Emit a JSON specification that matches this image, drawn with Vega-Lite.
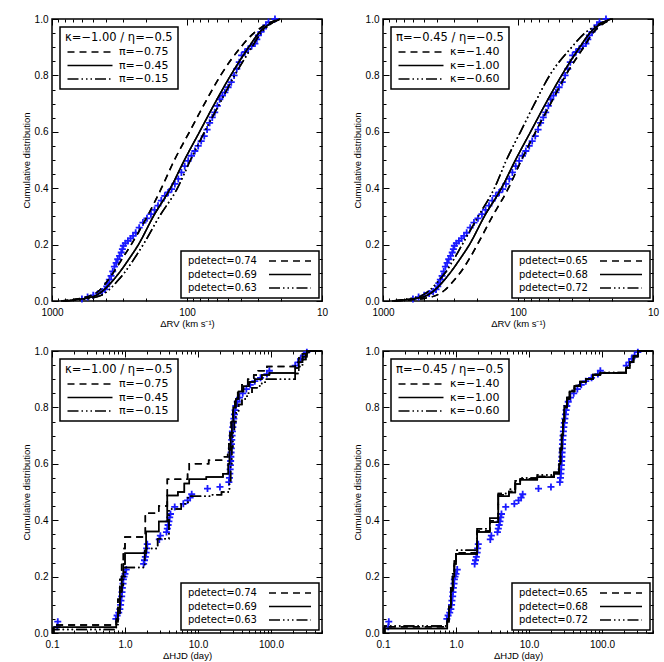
{
  "$schema": "https://vega.github.io/schema/vega-lite/v6.json",
  "padding": {"left": 20, "top": 11, "right": 6, "bottom": 3},
  "config": {
    "view": {"stroke": "black", "strokeWidth": 1.5},
    "axis": {"grid": false, "domain": false, "labelFont": "Liberation Sans", "labelFontSize": 10, "labelColor": "black", "titleFont": "Liberation Sans", "titleFontSize": 9.5, "titleFontWeight": "normal", "titleColor": "black", "tickColor": "black", "tickWidth": 1, "labelFlush": false, "labelOverlap": false, "labelBound": false},
    "legend": {"strokeColor": "black", "strokeWidth": 1.5, "fillColor": "white", "labelFont": "DejaVu Sans", "labelColor": "black", "titleFont": "DejaVu Sans", "titleColor": "black", "titleFontWeight": "normal", "symbolStrokeColor": "black", "symbolStrokeWidth": 1.4, "symbolFillColor": "transparent"},
    "line": {"color": "black", "strokeWidth": 1.5}
  },
  "datasets": {
    "obsRV": [
      {"v":600,"c":0.007},{"v":545,"c":0.014},{"v":495,"c":0.02},{"v":455,"c":0.027},{"v":425,"c":0.034},{"v":405,"c":0.041},{"v":393,"c":0.052},{"v":386,"c":0.063},{"v":376,"c":0.076},{"v":365,"c":0.089},{"v":355,"c":0.105},{"v":345,"c":0.122},{"v":335,"c":0.135},{"v":326,"c":0.148},{"v":316,"c":0.16},{"v":307,"c":0.172},{"v":301,"c":0.184},{"v":296,"c":0.196},{"v":286,"c":0.205},{"v":274,"c":0.213},{"v":262,"c":0.222},{"v":251,"c":0.231},{"v":240,"c":0.242},{"v":226,"c":0.26},{"v":212,"c":0.278},{"v":198,"c":0.293},{"v":185,"c":0.308},{"v":174,"c":0.323},{"v":164,"c":0.338},{"v":155,"c":0.356},{"v":146,"c":0.373},{"v":138,"c":0.385},{"v":130,"c":0.397},{"v":123,"c":0.415},{"v":116,"c":0.433},{"v":110,"c":0.456},{"v":104,"c":0.478},{"v":98,"c":0.497},{"v":92.6,"c":0.515},{"v":87.5,"c":0.532},{"v":82.6,"c":0.55},{"v":78.5,"c":0.567},{"v":74.5,"c":0.585},{"v":71,"c":0.608},{"v":68,"c":0.632},{"v":65,"c":0.651},{"v":62.3,"c":0.669},{"v":59.6,"c":0.692},{"v":57.2,"c":0.715},{"v":54.7,"c":0.728},{"v":52.4,"c":0.74},{"v":49.6,"c":0.758},{"v":47,"c":0.776},{"v":44.8,"c":0.8},{"v":42.8,"c":0.823},{"v":41,"c":0.847},{"v":39.4,"c":0.871},{"v":37.2,"c":0.883},{"v":35.2,"c":0.894},{"v":33.2,"c":0.904},{"v":31.4,"c":0.913},{"v":30.4,"c":0.928},{"v":29.6,"c":0.942},{"v":28.3,"c":0.954},{"v":27.1,"c":0.966},{"v":26,"c":0.978},{"v":24.9,"c":0.989},{"v":22.3,"c":1.0}
    ],
    "obsHJD": [
      {"v":0.118,"c":0.022},{"v":0.12,"c":0.04},
      {"v":0.75,"c":0.05},{"v":0.78,"c":0.062},{"v":0.82,"c":0.072},{"v":0.85,"c":0.085},{"v":0.87,"c":0.1},{"v":0.88,"c":0.115},{"v":0.9,"c":0.13},{"v":0.91,"c":0.145},{"v":0.92,"c":0.16},{"v":0.94,"c":0.175},{"v":0.95,"c":0.19},{"v":0.97,"c":0.2},{"v":1.0,"c":0.21},{"v":1.04,"c":0.225},
      {"v":1.8,"c":0.245},{"v":1.85,"c":0.258},{"v":1.9,"c":0.27},{"v":1.95,"c":0.285},{"v":1.98,"c":0.3},{"v":2.02,"c":0.315},
      {"v":2.95,"c":0.332},{"v":3.05,"c":0.345},
      {"v":3.7,"c":0.358},{"v":3.8,"c":0.37},{"v":3.9,"c":0.383},{"v":4.0,"c":0.396},{"v":4.1,"c":0.41},{"v":4.2,"c":0.422},
      {"v":4.8,"c":0.447},{"v":6.3,"c":0.458},{"v":7.2,"c":0.47},{"v":7.8,"c":0.48},{"v":8.2,"c":0.492},
      {"v":13.5,"c":0.512},{"v":20,"c":0.518},
      {"v":26.5,"c":0.535},{"v":27,"c":0.55},{"v":27.3,"c":0.565},{"v":27.6,"c":0.58},{"v":27.8,"c":0.595},{"v":28,"c":0.61},{"v":28.2,"c":0.625},{"v":28.4,"c":0.64},{"v":28.6,"c":0.655},{"v":28.8,"c":0.67},{"v":29,"c":0.685},{"v":29.3,"c":0.7},{"v":29.6,"c":0.715},{"v":30,"c":0.73},{"v":30.5,"c":0.745},{"v":31,"c":0.76},{"v":31.6,"c":0.775},{"v":32.3,"c":0.79},{"v":33,"c":0.805},{"v":34.5,"c":0.82},{"v":37,"c":0.835},{"v":41,"c":0.85},{"v":46,"c":0.865},{"v":52,"c":0.88},{"v":60,"c":0.893},{"v":72,"c":0.905},{"v":88,"c":0.918},{"v":95,"c":0.93},
      {"v":215,"c":0.948},{"v":235,"c":0.96},{"v":255,"c":0.972},{"v":280,"c":0.984},{"v":310,"c":0.996}
    ],
    "mTL": [
      {"v":857,"c":0,"m":"π=−0.75","p":"pdetect=0.74"},{"v":698,"c":0.005,"m":"π=−0.75","p":"pdetect=0.74"},{"v":609,"c":0.01,"m":"π=−0.75","p":"pdetect=0.74"},{"v":513,"c":0.02,"m":"π=−0.75","p":"pdetect=0.74"},{"v":440,"c":0.04,"m":"π=−0.75","p":"pdetect=0.74"},{"v":390,"c":0.07,"m":"π=−0.75","p":"pdetect=0.74"},{"v":352,"c":0.1,"m":"π=−0.75","p":"pdetect=0.74"},{"v":302,"c":0.15,"m":"π=−0.75","p":"pdetect=0.74"},{"v":259,"c":0.2,"m":"π=−0.75","p":"pdetect=0.74"},{"v":197,"c":0.3,"m":"π=−0.75","p":"pdetect=0.74"},{"v":154.7,"c":0.4,"m":"π=−0.75","p":"pdetect=0.74"},{"v":123.9,"c":0.5,"m":"π=−0.75","p":"pdetect=0.74"},{"v":95.8,"c":0.6,"m":"π=−0.75","p":"pdetect=0.74"},{"v":74.1,"c":0.7,"m":"π=−0.75","p":"pdetect=0.74"},{"v":56.4,"c":0.8,"m":"π=−0.75","p":"pdetect=0.74"},{"v":40,"c":0.9,"m":"π=−0.75","p":"pdetect=0.74"},{"v":32,"c":0.95,"m":"π=−0.75","p":"pdetect=0.74"},{"v":26.1,"c":0.98,"m":"π=−0.75","p":"pdetect=0.74"},{"v":20.9,"c":1,"m":"π=−0.75","p":"pdetect=0.74"},
      {"v":828,"c":0,"m":"π=−0.45","p":"pdetect=0.69"},{"v":663,"c":0.005,"m":"π=−0.45","p":"pdetect=0.69"},{"v":559,"c":0.01,"m":"π=−0.45","p":"pdetect=0.69"},{"v":471,"c":0.02,"m":"π=−0.45","p":"pdetect=0.69"},{"v":411,"c":0.04,"m":"π=−0.45","p":"pdetect=0.69"},{"v":358,"c":0.07,"m":"π=−0.45","p":"pdetect=0.69"},{"v":318,"c":0.1,"m":"π=−0.45","p":"pdetect=0.69"},{"v":268,"c":0.15,"m":"π=−0.45","p":"pdetect=0.69"},{"v":229,"c":0.2,"m":"π=−0.45","p":"pdetect=0.69"},{"v":177.5,"c":0.3,"m":"π=−0.45","p":"pdetect=0.69"},{"v":132.7,"c":0.4,"m":"π=−0.45","p":"pdetect=0.69"},{"v":104.4,"c":0.5,"m":"π=−0.45","p":"pdetect=0.69"},{"v":80.7,"c":0.6,"m":"π=−0.45","p":"pdetect=0.69"},{"v":62.4,"c":0.7,"m":"π=−0.45","p":"pdetect=0.69"},{"v":47.5,"c":0.8,"m":"π=−0.45","p":"pdetect=0.69"},{"v":34.9,"c":0.9,"m":"π=−0.45","p":"pdetect=0.69"},{"v":29.4,"c":0.95,"m":"π=−0.45","p":"pdetect=0.69"},{"v":24.8,"c":0.98,"m":"π=−0.45","p":"pdetect=0.69"},{"v":20.5,"c":1,"m":"π=−0.45","p":"pdetect=0.69"},
      {"v":800,"c":0,"m":"π=−0.15","p":"pdetect=0.63"},{"v":609,"c":0.005,"m":"π=−0.15","p":"pdetect=0.63"},{"v":513,"c":0.01,"m":"π=−0.15","p":"pdetect=0.63"},{"v":432,"c":0.02,"m":"π=−0.15","p":"pdetect=0.63"},{"v":377,"c":0.04,"m":"π=−0.15","p":"pdetect=0.63"},{"v":329,"c":0.07,"m":"π=−0.15","p":"pdetect=0.63"},{"v":291,"c":0.1,"m":"π=−0.15","p":"pdetect=0.63"},{"v":246,"c":0.15,"m":"π=−0.15","p":"pdetect=0.63"},{"v":211,"c":0.2,"m":"π=−0.15","p":"pdetect=0.63"},{"v":160,"c":0.3,"m":"π=−0.15","p":"pdetect=0.63"},{"v":117.7,"c":0.4,"m":"π=−0.15","p":"pdetect=0.63"},{"v":94.2,"c":0.5,"m":"π=−0.15","p":"pdetect=0.63"},{"v":74.1,"c":0.6,"m":"π=−0.15","p":"pdetect=0.63"},{"v":57.3,"c":0.7,"m":"π=−0.15","p":"pdetect=0.63"},{"v":44.4,"c":0.8,"m":"π=−0.15","p":"pdetect=0.63"},{"v":33.1,"c":0.9,"m":"π=−0.15","p":"pdetect=0.63"},{"v":28.4,"c":0.95,"m":"π=−0.15","p":"pdetect=0.63"},{"v":24.4,"c":0.98,"m":"π=−0.15","p":"pdetect=0.63"},{"v":20.2,"c":1,"m":"π=−0.15","p":"pdetect=0.63"}
    ],
    "mTR": [
      {"v":800,"c":0,"m":"κ=−1.40","p":"pdetect=0.65"},{"v":588,"c":0.005,"m":"κ=−1.40","p":"pdetect=0.65"},{"v":487,"c":0.01,"m":"κ=−1.40","p":"pdetect=0.65"},{"v":404,"c":0.02,"m":"κ=−1.40","p":"pdetect=0.65"},{"v":346,"c":0.04,"m":"κ=−1.40","p":"pdetect=0.65"},{"v":302,"c":0.07,"m":"κ=−1.40","p":"pdetect=0.65"},{"v":268,"c":0.1,"m":"κ=−1.40","p":"pdetect=0.65"},{"v":229,"c":0.15,"m":"κ=−1.40","p":"pdetect=0.65"},{"v":200,"c":0.2,"m":"κ=−1.40","p":"pdetect=0.65"},{"v":154.7,"c":0.3,"m":"κ=−1.40","p":"pdetect=0.65"},{"v":117.7,"c":0.4,"m":"κ=−1.40","p":"pdetect=0.65"},{"v":94.2,"c":0.5,"m":"κ=−1.40","p":"pdetect=0.65"},{"v":74.1,"c":0.6,"m":"κ=−1.40","p":"pdetect=0.65"},{"v":57.3,"c":0.7,"m":"κ=−1.40","p":"pdetect=0.65"},{"v":44.4,"c":0.8,"m":"κ=−1.40","p":"pdetect=0.65"},{"v":32.6,"c":0.9,"m":"κ=−1.40","p":"pdetect=0.65"},{"v":27.9,"c":0.95,"m":"κ=−1.40","p":"pdetect=0.65"},{"v":23.9,"c":0.98,"m":"κ=−1.40","p":"pdetect=0.65"},{"v":19.8,"c":1,"m":"κ=−1.40","p":"pdetect=0.65"},
      {"v":828,"c":0,"m":"κ=−1.00","p":"pdetect=0.68"},{"v":663,"c":0.005,"m":"κ=−1.00","p":"pdetect=0.68"},{"v":559,"c":0.01,"m":"κ=−1.00","p":"pdetect=0.68"},{"v":471,"c":0.02,"m":"κ=−1.00","p":"pdetect=0.68"},{"v":411,"c":0.04,"m":"κ=−1.00","p":"pdetect=0.68"},{"v":358,"c":0.07,"m":"κ=−1.00","p":"pdetect=0.68"},{"v":318,"c":0.1,"m":"κ=−1.00","p":"pdetect=0.68"},{"v":268,"c":0.15,"m":"κ=−1.00","p":"pdetect=0.68"},{"v":229,"c":0.2,"m":"κ=−1.00","p":"pdetect=0.68"},{"v":177.5,"c":0.3,"m":"κ=−1.00","p":"pdetect=0.68"},{"v":132.7,"c":0.4,"m":"κ=−1.00","p":"pdetect=0.68"},{"v":104.4,"c":0.5,"m":"κ=−1.00","p":"pdetect=0.68"},{"v":80.7,"c":0.6,"m":"κ=−1.00","p":"pdetect=0.68"},{"v":62.4,"c":0.7,"m":"κ=−1.00","p":"pdetect=0.68"},{"v":47.5,"c":0.8,"m":"κ=−1.00","p":"pdetect=0.68"},{"v":34.9,"c":0.9,"m":"κ=−1.00","p":"pdetect=0.68"},{"v":29.4,"c":0.95,"m":"κ=−1.00","p":"pdetect=0.68"},{"v":24.8,"c":0.98,"m":"κ=−1.00","p":"pdetect=0.68"},{"v":20.5,"c":1,"m":"κ=−1.00","p":"pdetect=0.68"},
      {"v":857,"c":0,"m":"κ=−0.60","p":"pdetect=0.72"},{"v":698,"c":0.005,"m":"κ=−0.60","p":"pdetect=0.72"},{"v":609,"c":0.01,"m":"κ=−0.60","p":"pdetect=0.72"},{"v":513,"c":0.02,"m":"κ=−0.60","p":"pdetect=0.72"},{"v":447,"c":0.04,"m":"κ=−0.60","p":"pdetect=0.72"},{"v":390,"c":0.07,"m":"κ=−0.60","p":"pdetect=0.72"},{"v":346,"c":0.1,"m":"κ=−0.60","p":"pdetect=0.72"},{"v":297,"c":0.15,"m":"κ=−0.60","p":"pdetect=0.72"},{"v":259,"c":0.2,"m":"κ=−0.60","p":"pdetect=0.72"},{"v":197,"c":0.3,"m":"κ=−0.60","p":"pdetect=0.72"},{"v":149.5,"c":0.4,"m":"κ=−0.60","p":"pdetect=0.72"},{"v":121.8,"c":0.5,"m":"κ=−0.60","p":"pdetect=0.72"},{"v":95.8,"c":0.6,"m":"κ=−0.60","p":"pdetect=0.72"},{"v":75.4,"c":0.7,"m":"κ=−0.60","p":"pdetect=0.72"},{"v":58.3,"c":0.8,"m":"κ=−0.60","p":"pdetect=0.72"},{"v":40,"c":0.9,"m":"κ=−0.60","p":"pdetect=0.72"},{"v":32,"c":0.95,"m":"κ=−0.60","p":"pdetect=0.72"},{"v":25.6,"c":0.98,"m":"κ=−0.60","p":"pdetect=0.72"},{"v":20.2,"c":1,"m":"κ=−0.60","p":"pdetect=0.72"}
    ],
    "mBL": [
      {"v":0.1,"c":0,"m":"π=−0.75","p":"pdetect=0.74"},{"v":0.105,"c":0.028,"m":"π=−0.75","p":"pdetect=0.74"},{"v":0.76,"c":0.06,"m":"π=−0.75","p":"pdetect=0.74"},{"v":0.8,"c":0.12,"m":"π=−0.75","p":"pdetect=0.74"},{"v":0.85,"c":0.19,"m":"π=−0.75","p":"pdetect=0.74"},{"v":0.9,"c":0.25,"m":"π=−0.75","p":"pdetect=0.74"},{"v":0.95,"c":0.3,"m":"π=−0.75","p":"pdetect=0.74"},{"v":1.0,"c":0.34,"m":"π=−0.75","p":"pdetect=0.74"},{"v":1.9,"c":0.425,"m":"π=−0.75","p":"pdetect=0.74"},{"v":2.9,"c":0.45,"m":"π=−0.75","p":"pdetect=0.74"},{"v":3.8,"c":0.545,"m":"π=−0.75","p":"pdetect=0.74"},{"v":7.2,"c":0.57,"m":"π=−0.75","p":"pdetect=0.74"},{"v":7.6,"c":0.6,"m":"π=−0.75","p":"pdetect=0.74"},{"v":14,"c":0.613,"m":"π=−0.75","p":"pdetect=0.74"},{"v":21,"c":0.625,"m":"π=−0.75","p":"pdetect=0.74"},{"v":25.5,"c":0.645,"m":"π=−0.75","p":"pdetect=0.74"},{"v":26.5,"c":0.68,"m":"π=−0.75","p":"pdetect=0.74"},{"v":27.5,"c":0.72,"m":"π=−0.75","p":"pdetect=0.74"},{"v":28.5,"c":0.76,"m":"π=−0.75","p":"pdetect=0.74"},{"v":30,"c":0.8,"m":"π=−0.75","p":"pdetect=0.74"},{"v":32,"c":0.83,"m":"π=−0.75","p":"pdetect=0.74"},{"v":35,"c":0.86,"m":"π=−0.75","p":"pdetect=0.74"},{"v":40,"c":0.88,"m":"π=−0.75","p":"pdetect=0.74"},{"v":48,"c":0.9,"m":"π=−0.75","p":"pdetect=0.74"},{"v":58,"c":0.915,"m":"π=−0.75","p":"pdetect=0.74"},{"v":67,"c":0.93,"m":"π=−0.75","p":"pdetect=0.74"},{"v":88,"c":0.945,"m":"π=−0.75","p":"pdetect=0.74"},{"v":215,"c":0.96,"m":"π=−0.75","p":"pdetect=0.74"},{"v":240,"c":0.975,"m":"π=−0.75","p":"pdetect=0.74"},{"v":270,"c":0.99,"m":"π=−0.75","p":"pdetect=0.74"},{"v":310,"c":1.0,"m":"π=−0.75","p":"pdetect=0.74"},{"v":500,"c":1.0,"m":"π=−0.75","p":"pdetect=0.74"},
      {"v":0.1,"c":0,"m":"π=−0.45","p":"pdetect=0.69"},{"v":0.105,"c":0.02,"m":"π=−0.45","p":"pdetect=0.69"},{"v":0.76,"c":0.04,"m":"π=−0.45","p":"pdetect=0.69"},{"v":0.8,"c":0.09,"m":"π=−0.45","p":"pdetect=0.69"},{"v":0.85,"c":0.15,"m":"π=−0.45","p":"pdetect=0.69"},{"v":0.9,"c":0.2,"m":"π=−0.45","p":"pdetect=0.69"},{"v":0.95,"c":0.245,"m":"π=−0.45","p":"pdetect=0.69"},{"v":1.0,"c":0.283,"m":"π=−0.45","p":"pdetect=0.69"},{"v":1.95,"c":0.36,"m":"π=−0.45","p":"pdetect=0.69"},{"v":2.9,"c":0.395,"m":"π=−0.45","p":"pdetect=0.69"},{"v":3.8,"c":0.488,"m":"π=−0.45","p":"pdetect=0.69"},{"v":5.3,"c":0.5,"m":"π=−0.45","p":"pdetect=0.69"},{"v":6.5,"c":0.53,"m":"π=−0.45","p":"pdetect=0.69"},{"v":7.6,"c":0.545,"m":"π=−0.45","p":"pdetect=0.69"},{"v":13,"c":0.553,"m":"π=−0.45","p":"pdetect=0.69"},{"v":22,"c":0.565,"m":"π=−0.45","p":"pdetect=0.69"},{"v":26,"c":0.6,"m":"π=−0.45","p":"pdetect=0.69"},{"v":27,"c":0.65,"m":"π=−0.45","p":"pdetect=0.69"},{"v":28,"c":0.7,"m":"π=−0.45","p":"pdetect=0.69"},{"v":29,"c":0.75,"m":"π=−0.45","p":"pdetect=0.69"},{"v":30.5,"c":0.8,"m":"π=−0.45","p":"pdetect=0.69"},{"v":33,"c":0.83,"m":"π=−0.45","p":"pdetect=0.69"},{"v":36,"c":0.856,"m":"π=−0.45","p":"pdetect=0.69"},{"v":42,"c":0.875,"m":"π=−0.45","p":"pdetect=0.69"},{"v":50,"c":0.89,"m":"π=−0.45","p":"pdetect=0.69"},{"v":60,"c":0.9,"m":"π=−0.45","p":"pdetect=0.69"},{"v":75,"c":0.915,"m":"π=−0.45","p":"pdetect=0.69"},{"v":95,"c":0.922,"m":"π=−0.45","p":"pdetect=0.69"},{"v":215,"c":0.94,"m":"π=−0.45","p":"pdetect=0.69"},{"v":240,"c":0.96,"m":"π=−0.45","p":"pdetect=0.69"},{"v":270,"c":0.98,"m":"π=−0.45","p":"pdetect=0.69"},{"v":310,"c":1.0,"m":"π=−0.45","p":"pdetect=0.69"},{"v":500,"c":1.0,"m":"π=−0.45","p":"pdetect=0.69"},
      {"v":0.1,"c":0,"m":"π=−0.15","p":"pdetect=0.63"},{"v":0.105,"c":0.012,"m":"π=−0.15","p":"pdetect=0.63"},{"v":0.76,"c":0.03,"m":"π=−0.15","p":"pdetect=0.63"},{"v":0.8,"c":0.07,"m":"π=−0.15","p":"pdetect=0.63"},{"v":0.85,"c":0.12,"m":"π=−0.15","p":"pdetect=0.63"},{"v":0.9,"c":0.17,"m":"π=−0.15","p":"pdetect=0.63"},{"v":0.95,"c":0.2,"m":"π=−0.15","p":"pdetect=0.63"},{"v":1.0,"c":0.232,"m":"π=−0.15","p":"pdetect=0.63"},{"v":1.86,"c":0.3,"m":"π=−0.15","p":"pdetect=0.63"},{"v":2.8,"c":0.334,"m":"π=−0.15","p":"pdetect=0.63"},{"v":4.0,"c":0.44,"m":"π=−0.15","p":"pdetect=0.63"},{"v":5.9,"c":0.458,"m":"π=−0.15","p":"pdetect=0.63"},{"v":7.3,"c":0.485,"m":"π=−0.15","p":"pdetect=0.63"},{"v":15,"c":0.49,"m":"π=−0.15","p":"pdetect=0.63"},{"v":21,"c":0.5,"m":"π=−0.15","p":"pdetect=0.63"},{"v":27,"c":0.54,"m":"π=−0.15","p":"pdetect=0.63"},{"v":28,"c":0.6,"m":"π=−0.15","p":"pdetect=0.63"},{"v":29,"c":0.66,"m":"π=−0.15","p":"pdetect=0.63"},{"v":30,"c":0.71,"m":"π=−0.15","p":"pdetect=0.63"},{"v":31.5,"c":0.75,"m":"π=−0.15","p":"pdetect=0.63"},{"v":33,"c":0.78,"m":"π=−0.15","p":"pdetect=0.63"},{"v":36,"c":0.81,"m":"π=−0.15","p":"pdetect=0.63"},{"v":40,"c":0.83,"m":"π=−0.15","p":"pdetect=0.63"},{"v":47,"c":0.85,"m":"π=−0.15","p":"pdetect=0.63"},{"v":55,"c":0.87,"m":"π=−0.15","p":"pdetect=0.63"},{"v":70,"c":0.885,"m":"π=−0.15","p":"pdetect=0.63"},{"v":83,"c":0.9,"m":"π=−0.15","p":"pdetect=0.63"},{"v":215,"c":0.92,"m":"π=−0.15","p":"pdetect=0.63"},{"v":240,"c":0.945,"m":"π=−0.15","p":"pdetect=0.63"},{"v":270,"c":0.97,"m":"π=−0.15","p":"pdetect=0.63"},{"v":300,"c":0.99,"m":"π=−0.15","p":"pdetect=0.63"},{"v":330,"c":1.0,"m":"π=−0.15","p":"pdetect=0.63"},{"v":500,"c":1.0,"m":"π=−0.15","p":"pdetect=0.63"}
    ],
    "mBR": [
      {"v":0.1,"c":0,"m":"κ=−1.40","p":"pdetect=0.65"},{"v":0.105,"c":0.022,"m":"κ=−1.40","p":"pdetect=0.65"},{"v":0.76,"c":0.045,"m":"κ=−1.40","p":"pdetect=0.65"},{"v":0.8,"c":0.095,"m":"κ=−1.40","p":"pdetect=0.65"},{"v":0.85,"c":0.155,"m":"κ=−1.40","p":"pdetect=0.65"},{"v":0.9,"c":0.205,"m":"κ=−1.40","p":"pdetect=0.65"},{"v":0.95,"c":0.25,"m":"κ=−1.40","p":"pdetect=0.65"},{"v":1.0,"c":0.285,"m":"κ=−1.40","p":"pdetect=0.65"},{"v":1.95,"c":0.362,"m":"κ=−1.40","p":"pdetect=0.65"},{"v":2.9,"c":0.398,"m":"κ=−1.40","p":"pdetect=0.65"},{"v":3.8,"c":0.49,"m":"κ=−1.40","p":"pdetect=0.65"},{"v":5.3,"c":0.502,"m":"κ=−1.40","p":"pdetect=0.65"},{"v":6.5,"c":0.532,"m":"κ=−1.40","p":"pdetect=0.65"},{"v":7.6,"c":0.547,"m":"κ=−1.40","p":"pdetect=0.65"},{"v":13,"c":0.555,"m":"κ=−1.40","p":"pdetect=0.65"},{"v":22,"c":0.567,"m":"κ=−1.40","p":"pdetect=0.65"},{"v":26,"c":0.602,"m":"κ=−1.40","p":"pdetect=0.65"},{"v":27,"c":0.652,"m":"κ=−1.40","p":"pdetect=0.65"},{"v":28,"c":0.702,"m":"κ=−1.40","p":"pdetect=0.65"},{"v":29,"c":0.752,"m":"κ=−1.40","p":"pdetect=0.65"},{"v":30.5,"c":0.802,"m":"κ=−1.40","p":"pdetect=0.65"},{"v":33,"c":0.832,"m":"κ=−1.40","p":"pdetect=0.65"},{"v":36,"c":0.857,"m":"κ=−1.40","p":"pdetect=0.65"},{"v":42,"c":0.876,"m":"κ=−1.40","p":"pdetect=0.65"},{"v":50,"c":0.891,"m":"κ=−1.40","p":"pdetect=0.65"},{"v":60,"c":0.901,"m":"κ=−1.40","p":"pdetect=0.65"},{"v":75,"c":0.916,"m":"κ=−1.40","p":"pdetect=0.65"},{"v":95,"c":0.923,"m":"κ=−1.40","p":"pdetect=0.65"},{"v":215,"c":0.941,"m":"κ=−1.40","p":"pdetect=0.65"},{"v":240,"c":0.961,"m":"κ=−1.40","p":"pdetect=0.65"},{"v":270,"c":0.981,"m":"κ=−1.40","p":"pdetect=0.65"},{"v":310,"c":1.0,"m":"κ=−1.40","p":"pdetect=0.65"},{"v":500,"c":1.0,"m":"κ=−1.40","p":"pdetect=0.65"},
      {"v":0.1,"c":0,"m":"κ=−1.00","p":"pdetect=0.68"},{"v":0.105,"c":0.016,"m":"κ=−1.00","p":"pdetect=0.68"},{"v":0.76,"c":0.04,"m":"κ=−1.00","p":"pdetect=0.68"},{"v":0.8,"c":0.09,"m":"κ=−1.00","p":"pdetect=0.68"},{"v":0.85,"c":0.15,"m":"κ=−1.00","p":"pdetect=0.68"},{"v":0.9,"c":0.2,"m":"κ=−1.00","p":"pdetect=0.68"},{"v":0.95,"c":0.245,"m":"κ=−1.00","p":"pdetect=0.68"},{"v":1.0,"c":0.28,"m":"κ=−1.00","p":"pdetect=0.68"},{"v":1.95,"c":0.358,"m":"κ=−1.00","p":"pdetect=0.68"},{"v":2.9,"c":0.393,"m":"κ=−1.00","p":"pdetect=0.68"},{"v":3.8,"c":0.485,"m":"κ=−1.00","p":"pdetect=0.68"},{"v":5.3,"c":0.498,"m":"κ=−1.00","p":"pdetect=0.68"},{"v":6.5,"c":0.528,"m":"κ=−1.00","p":"pdetect=0.68"},{"v":7.6,"c":0.543,"m":"κ=−1.00","p":"pdetect=0.68"},{"v":13,"c":0.552,"m":"κ=−1.00","p":"pdetect=0.68"},{"v":22,"c":0.565,"m":"κ=−1.00","p":"pdetect=0.68"},{"v":26,"c":0.6,"m":"κ=−1.00","p":"pdetect=0.68"},{"v":27,"c":0.65,"m":"κ=−1.00","p":"pdetect=0.68"},{"v":28,"c":0.7,"m":"κ=−1.00","p":"pdetect=0.68"},{"v":29,"c":0.75,"m":"κ=−1.00","p":"pdetect=0.68"},{"v":30.5,"c":0.8,"m":"κ=−1.00","p":"pdetect=0.68"},{"v":33,"c":0.83,"m":"κ=−1.00","p":"pdetect=0.68"},{"v":36,"c":0.856,"m":"κ=−1.00","p":"pdetect=0.68"},{"v":42,"c":0.875,"m":"κ=−1.00","p":"pdetect=0.68"},{"v":50,"c":0.89,"m":"κ=−1.00","p":"pdetect=0.68"},{"v":60,"c":0.9,"m":"κ=−1.00","p":"pdetect=0.68"},{"v":75,"c":0.915,"m":"κ=−1.00","p":"pdetect=0.68"},{"v":95,"c":0.922,"m":"κ=−1.00","p":"pdetect=0.68"},{"v":215,"c":0.94,"m":"κ=−1.00","p":"pdetect=0.68"},{"v":240,"c":0.96,"m":"κ=−1.00","p":"pdetect=0.68"},{"v":270,"c":0.98,"m":"κ=−1.00","p":"pdetect=0.68"},{"v":310,"c":1.0,"m":"κ=−1.00","p":"pdetect=0.68"},{"v":500,"c":1.0,"m":"κ=−1.00","p":"pdetect=0.68"},
      {"v":0.1,"c":0,"m":"κ=−0.60","p":"pdetect=0.72"},{"v":0.105,"c":0.025,"m":"κ=−0.60","p":"pdetect=0.72"},{"v":0.76,"c":0.05,"m":"κ=−0.60","p":"pdetect=0.72"},{"v":0.8,"c":0.1,"m":"κ=−0.60","p":"pdetect=0.72"},{"v":0.85,"c":0.16,"m":"κ=−0.60","p":"pdetect=0.72"},{"v":0.9,"c":0.21,"m":"κ=−0.60","p":"pdetect=0.72"},{"v":0.95,"c":0.255,"m":"κ=−0.60","p":"pdetect=0.72"},{"v":1.0,"c":0.293,"m":"κ=−0.60","p":"pdetect=0.72"},{"v":1.95,"c":0.37,"m":"κ=−0.60","p":"pdetect=0.72"},{"v":2.9,"c":0.407,"m":"κ=−0.60","p":"pdetect=0.72"},{"v":3.8,"c":0.495,"m":"κ=−0.60","p":"pdetect=0.72"},{"v":5.3,"c":0.51,"m":"κ=−0.60","p":"pdetect=0.72"},{"v":6.5,"c":0.54,"m":"κ=−0.60","p":"pdetect=0.72"},{"v":7.6,"c":0.55,"m":"κ=−0.60","p":"pdetect=0.72"},{"v":13,"c":0.56,"m":"κ=−0.60","p":"pdetect=0.72"},{"v":22,"c":0.57,"m":"κ=−0.60","p":"pdetect=0.72"},{"v":26,"c":0.605,"m":"κ=−0.60","p":"pdetect=0.72"},{"v":27,"c":0.655,"m":"κ=−0.60","p":"pdetect=0.72"},{"v":28,"c":0.705,"m":"κ=−0.60","p":"pdetect=0.72"},{"v":29,"c":0.755,"m":"κ=−0.60","p":"pdetect=0.72"},{"v":30.5,"c":0.805,"m":"κ=−0.60","p":"pdetect=0.72"},{"v":33,"c":0.835,"m":"κ=−0.60","p":"pdetect=0.72"},{"v":36,"c":0.86,"m":"κ=−0.60","p":"pdetect=0.72"},{"v":42,"c":0.878,"m":"κ=−0.60","p":"pdetect=0.72"},{"v":50,"c":0.892,"m":"κ=−0.60","p":"pdetect=0.72"},{"v":60,"c":0.902,"m":"κ=−0.60","p":"pdetect=0.72"},{"v":75,"c":0.917,"m":"κ=−0.60","p":"pdetect=0.72"},{"v":95,"c":0.924,"m":"κ=−0.60","p":"pdetect=0.72"},{"v":215,"c":0.942,"m":"κ=−0.60","p":"pdetect=0.72"},{"v":240,"c":0.962,"m":"κ=−0.60","p":"pdetect=0.72"},{"v":270,"c":0.982,"m":"κ=−0.60","p":"pdetect=0.72"},{"v":310,"c":1.0,"m":"κ=−0.60","p":"pdetect=0.72"},{"v":500,"c":1.0,"m":"κ=−0.60","p":"pdetect=0.72"}
    ]
  },
  "columns": 2,
  "spacing": {"row": 50, "column": 61},
  "bounds": "flush",
  "concat": [
    {
      "width": 270, "height": 282,
      "layer": [
        {"data": {"name": "obsRV"},
         "mark": {"type": "point", "shape": "M-1,0L1,0M0,-1L0,1", "filled": false, "size": 49, "strokeWidth": 1.8, "color": "#1a1aff", "opacity": 1},
         "encoding": {
           "x": {"field": "v", "type": "quantitative", "scale": {"type": "log", "domain": [10, 1000], "reverse": true},
                 "axis": {"orient": "bottom", "values": [10,20,30,40,50,60,70,80,90,100,200,300,400,500,600,700,800,900,1000], "labelExpr": "datum.value == 10 || datum.value == 100 || datum.value == 1000 ? format(datum.value, 'd') : ''", "tickSize": {"condition": {"test": "datum.value == 10 || datum.value == 100 || datum.value == 1000", "value": -6}, "value": -3}, "labelPadding": 12, "title": "ΔRV (km s⁻¹)", "titlePadding": -2}},
           "y": {"field": "c", "type": "quantitative", "scale": {"domain": [0, 1]},
                 "axis": {"orient": "left", "values": [0,0.05,0.1,0.15,0.2,0.25,0.3,0.35,0.4,0.45,0.5,0.55,0.6,0.65,0.7,0.75,0.8,0.85,0.9,0.95,1], "format": ".1f", "labelExpr": "indexof([0,0.2,0.4,0.6,0.8,1], datum.value) >= 0 ? datum.label : ''", "tickSize": {"condition": {"test": "indexof([0,0.2,0.4,0.6,0.8,1], datum.value) >= 0", "value": -6}, "value": -3}, "labelPadding": 10, "title": "Cumulative distribution", "titlePadding": 3}}
         }},
        {"data": {"name": "mTL"},
         "mark": {"type": "line", "interpolate": "monotone"},
         "encoding": {
           "x": {"field": "v", "type": "quantitative", "scale": {"type": "log", "domain": [10, 1000], "reverse": true},
                 "axis": {"orient": "top", "values": [10,20,30,40,50,60,70,80,90,100,200,300,400,500,600,700,800,900,1000], "labels": false, "tickSize": {"condition": {"test": "datum.value == 10 || datum.value == 100 || datum.value == 1000", "value": -6}, "value": -3}, "title": null}},
           "y": {"field": "c", "type": "quantitative", "scale": {"domain": [0, 1]},
                 "axis": {"orient": "right", "values": [0,0.05,0.1,0.15,0.2,0.25,0.3,0.35,0.4,0.45,0.5,0.55,0.6,0.65,0.7,0.75,0.8,0.85,0.9,0.95,1], "labels": false, "tickSize": {"condition": {"test": "indexof([0,0.2,0.4,0.6,0.8,1], datum.value) >= 0", "value": -6}, "value": -3}, "title": null}},
           "order": {"field": "v", "sort": "descending"},
           "strokeDash": {"field": "m", "type": "nominal", "scale": {"domain": ["π=−0.75", "π=−0.45", "π=−0.15"], "range": [[7,5],[1,0],[11,3,1.5,3,1.5,3,1.5,3]]},
                          "legend": {"orient": "top-left", "offset": 8, "title": "κ=−1.00 / η=−0.5", "titleFontSize": 11.5, "titlePadding": 3, "labelFontSize": 11, "symbolType": "M-1,0H14", "symbolSize": 36, "labelOffset": 43, "padding": 5, "rowPadding": 1.5}}
         }},
        {"data": {"name": "mTL"},
         "mark": {"type": "line", "interpolate": "monotone"},
         "encoding": {
           "x": {"field": "v", "type": "quantitative", "scale": {"type": "log", "domain": [10, 1000], "reverse": true}, "axis": null},
           "y": {"field": "c", "type": "quantitative", "scale": {"domain": [0, 1]}, "axis": null},
           "order": {"field": "v", "sort": "descending"},
           "strokeDash": {"field": "p", "type": "nominal", "scale": {"domain": ["pdetect=0.74", "pdetect=0.69", "pdetect=0.63"], "range": [[7,5],[1,0],[11,3,1.5,3,1.5,3,1.5,3]]},
                          "legend": {"orient": "bottom-right", "offset": 3, "title": null, "labelFontSize": 10, "symbolType": "M26,0H40", "symbolSize": 36, "labelOffset": -8, "padding": 5, "rowPadding": 3.5}}
         }}
      ],
      "resolve": {"scale": {"strokeDash": "independent"}, "axis": {"x": "independent", "y": "independent"}}
    },
    {
      "width": 270, "height": 282,
      "layer": [
        {"data": {"name": "obsRV"},
         "mark": {"type": "point", "shape": "M-1,0L1,0M0,-1L0,1", "filled": false, "size": 49, "strokeWidth": 1.8, "color": "#1a1aff", "opacity": 1},
         "encoding": {
           "x": {"field": "v", "type": "quantitative", "scale": {"type": "log", "domain": [10, 1000], "reverse": true},
                 "axis": {"orient": "bottom", "values": [10,20,30,40,50,60,70,80,90,100,200,300,400,500,600,700,800,900,1000], "labelExpr": "datum.value == 10 || datum.value == 100 || datum.value == 1000 ? format(datum.value, 'd') : ''", "tickSize": {"condition": {"test": "datum.value == 10 || datum.value == 100 || datum.value == 1000", "value": -6}, "value": -3}, "labelPadding": 12, "title": "ΔRV (km s⁻¹)", "titlePadding": -2}},
           "y": {"field": "c", "type": "quantitative", "scale": {"domain": [0, 1]},
                 "axis": {"orient": "left", "values": [0,0.05,0.1,0.15,0.2,0.25,0.3,0.35,0.4,0.45,0.5,0.55,0.6,0.65,0.7,0.75,0.8,0.85,0.9,0.95,1], "format": ".1f", "labelExpr": "indexof([0,0.2,0.4,0.6,0.8,1], datum.value) >= 0 ? datum.label : ''", "tickSize": {"condition": {"test": "indexof([0,0.2,0.4,0.6,0.8,1], datum.value) >= 0", "value": -6}, "value": -3}, "labelPadding": 10, "title": "Cumulative distribution", "titlePadding": 3}}
         }},
        {"data": {"name": "mTR"},
         "mark": {"type": "line", "interpolate": "monotone"},
         "encoding": {
           "x": {"field": "v", "type": "quantitative", "scale": {"type": "log", "domain": [10, 1000], "reverse": true},
                 "axis": {"orient": "top", "values": [10,20,30,40,50,60,70,80,90,100,200,300,400,500,600,700,800,900,1000], "labels": false, "tickSize": {"condition": {"test": "datum.value == 10 || datum.value == 100 || datum.value == 1000", "value": -6}, "value": -3}, "title": null}},
           "y": {"field": "c", "type": "quantitative", "scale": {"domain": [0, 1]},
                 "axis": {"orient": "right", "values": [0,0.05,0.1,0.15,0.2,0.25,0.3,0.35,0.4,0.45,0.5,0.55,0.6,0.65,0.7,0.75,0.8,0.85,0.9,0.95,1], "labels": false, "tickSize": {"condition": {"test": "indexof([0,0.2,0.4,0.6,0.8,1], datum.value) >= 0", "value": -6}, "value": -3}, "title": null}},
           "order": {"field": "v", "sort": "descending"},
           "strokeDash": {"field": "m", "type": "nominal", "scale": {"domain": ["κ=−1.40", "κ=−1.00", "κ=−0.60"], "range": [[7,5],[1,0],[11,3,1.5,3,1.5,3,1.5,3]]},
                          "legend": {"orient": "top-left", "offset": 8, "title": "π=−0.45 / η=−0.5", "titleFontSize": 11.5, "titlePadding": 3, "labelFontSize": 11, "symbolType": "M-1,0H14", "symbolSize": 36, "labelOffset": 43, "padding": 5, "rowPadding": 1.5}}
         }},
        {"data": {"name": "mTR"},
         "mark": {"type": "line", "interpolate": "monotone"},
         "encoding": {
           "x": {"field": "v", "type": "quantitative", "scale": {"type": "log", "domain": [10, 1000], "reverse": true}, "axis": null},
           "y": {"field": "c", "type": "quantitative", "scale": {"domain": [0, 1]}, "axis": null},
           "order": {"field": "v", "sort": "descending"},
           "strokeDash": {"field": "p", "type": "nominal", "scale": {"domain": ["pdetect=0.65", "pdetect=0.68", "pdetect=0.72"], "range": [[7,5],[1,0],[11,3,1.5,3,1.5,3,1.5,3]]},
                          "legend": {"orient": "bottom-right", "offset": 3, "title": null, "labelFontSize": 10, "symbolType": "M26,0H40", "symbolSize": 36, "labelOffset": -8, "padding": 5, "rowPadding": 3.5}}
         }}
      ],
      "resolve": {"scale": {"strokeDash": "independent"}, "axis": {"x": "independent", "y": "independent"}}
    },
    {
      "width": 270, "height": 282,
      "layer": [
        {"data": {"name": "obsHJD"},
         "mark": {"type": "point", "shape": "M-1,0L1,0M0,-1L0,1", "filled": false, "size": 49, "strokeWidth": 1.8, "color": "#1a1aff", "opacity": 1},
         "encoding": {
           "x": {"field": "v", "type": "quantitative", "scale": {"type": "log", "domain": [0.1, 500]},
                 "axis": {"orient": "bottom", "values": [0.1,0.2,0.3,0.4,0.5,0.6,0.7,0.8,0.9,1,2,3,4,5,6,7,8,9,10,20,30,40,50,60,70,80,90,100,200,300,400,500], "labelExpr": "indexof([0.1,1,10,100], datum.value) >= 0 ? format(datum.value, '.1f') : ''", "tickSize": {"condition": {"test": "indexof([0.1,1,10,100], datum.value) >= 0", "value": -6}, "value": -3}, "labelPadding": 12, "title": "ΔHJD (day)", "titlePadding": -2}},
           "y": {"field": "c", "type": "quantitative", "scale": {"domain": [0, 1]},
                 "axis": {"orient": "left", "values": [0,0.05,0.1,0.15,0.2,0.25,0.3,0.35,0.4,0.45,0.5,0.55,0.6,0.65,0.7,0.75,0.8,0.85,0.9,0.95,1], "format": ".1f", "labelExpr": "indexof([0,0.2,0.4,0.6,0.8,1], datum.value) >= 0 ? datum.label : ''", "tickSize": {"condition": {"test": "indexof([0,0.2,0.4,0.6,0.8,1], datum.value) >= 0", "value": -6}, "value": -3}, "labelPadding": 10, "title": "Cumulative distribution", "titlePadding": 3}}
         }},
        {"data": {"name": "mBL"},
         "mark": {"type": "line", "interpolate": "step-after"},
         "encoding": {
           "x": {"field": "v", "type": "quantitative", "scale": {"type": "log", "domain": [0.1, 500]},
                 "axis": {"orient": "top", "values": [0.1,0.2,0.3,0.4,0.5,0.6,0.7,0.8,0.9,1,2,3,4,5,6,7,8,9,10,20,30,40,50,60,70,80,90,100,200,300,400,500], "labels": false, "tickSize": {"condition": {"test": "indexof([0.1,1,10,100], datum.value) >= 0", "value": -6}, "value": -3}, "title": null}},
           "y": {"field": "c", "type": "quantitative", "scale": {"domain": [0, 1]},
                 "axis": {"orient": "right", "values": [0,0.05,0.1,0.15,0.2,0.25,0.3,0.35,0.4,0.45,0.5,0.55,0.6,0.65,0.7,0.75,0.8,0.85,0.9,0.95,1], "labels": false, "tickSize": {"condition": {"test": "indexof([0,0.2,0.4,0.6,0.8,1], datum.value) >= 0", "value": -6}, "value": -3}, "title": null}},
           "strokeDash": {"field": "m", "type": "nominal", "scale": {"domain": ["π=−0.75", "π=−0.45", "π=−0.15"], "range": [[7,5],[1,0],[11,3,1.5,3,1.5,3,1.5,3]]},
                          "legend": {"orient": "top-left", "offset": 8, "title": "κ=−1.00 / η=−0.5", "titleFontSize": 11.5, "titlePadding": 3, "labelFontSize": 11, "symbolType": "M-1,0H14", "symbolSize": 36, "labelOffset": 43, "padding": 5, "rowPadding": 1.5}}
         }},
        {"data": {"name": "mBL"},
         "mark": {"type": "line", "interpolate": "step-after"},
         "encoding": {
           "x": {"field": "v", "type": "quantitative", "scale": {"type": "log", "domain": [0.1, 500]}, "axis": null},
           "y": {"field": "c", "type": "quantitative", "scale": {"domain": [0, 1]}, "axis": null},
           "strokeDash": {"field": "p", "type": "nominal", "scale": {"domain": ["pdetect=0.74", "pdetect=0.69", "pdetect=0.63"], "range": [[7,5],[1,0],[11,3,1.5,3,1.5,3,1.5,3]]},
                          "legend": {"orient": "bottom-right", "offset": 3, "title": null, "labelFontSize": 10, "symbolType": "M26,0H40", "symbolSize": 36, "labelOffset": -8, "padding": 5, "rowPadding": 3.5}}
         }}
      ],
      "resolve": {"scale": {"strokeDash": "independent"}, "axis": {"x": "independent", "y": "independent"}}
    },
    {
      "width": 270, "height": 282,
      "layer": [
        {"data": {"name": "obsHJD"},
         "mark": {"type": "point", "shape": "M-1,0L1,0M0,-1L0,1", "filled": false, "size": 49, "strokeWidth": 1.8, "color": "#1a1aff", "opacity": 1},
         "encoding": {
           "x": {"field": "v", "type": "quantitative", "scale": {"type": "log", "domain": [0.1, 500]},
                 "axis": {"orient": "bottom", "values": [0.1,0.2,0.3,0.4,0.5,0.6,0.7,0.8,0.9,1,2,3,4,5,6,7,8,9,10,20,30,40,50,60,70,80,90,100,200,300,400,500], "labelExpr": "indexof([0.1,1,10,100], datum.value) >= 0 ? format(datum.value, '.1f') : ''", "tickSize": {"condition": {"test": "indexof([0.1,1,10,100], datum.value) >= 0", "value": -6}, "value": -3}, "labelPadding": 12, "title": "ΔHJD (day)", "titlePadding": -2}},
           "y": {"field": "c", "type": "quantitative", "scale": {"domain": [0, 1]},
                 "axis": {"orient": "left", "values": [0,0.05,0.1,0.15,0.2,0.25,0.3,0.35,0.4,0.45,0.5,0.55,0.6,0.65,0.7,0.75,0.8,0.85,0.9,0.95,1], "format": ".1f", "labelExpr": "indexof([0,0.2,0.4,0.6,0.8,1], datum.value) >= 0 ? datum.label : ''", "tickSize": {"condition": {"test": "indexof([0,0.2,0.4,0.6,0.8,1], datum.value) >= 0", "value": -6}, "value": -3}, "labelPadding": 10, "title": "Cumulative distribution", "titlePadding": 3}}
         }},
        {"data": {"name": "mBR"},
         "mark": {"type": "line", "interpolate": "step-after"},
         "encoding": {
           "x": {"field": "v", "type": "quantitative", "scale": {"type": "log", "domain": [0.1, 500]},
                 "axis": {"orient": "top", "values": [0.1,0.2,0.3,0.4,0.5,0.6,0.7,0.8,0.9,1,2,3,4,5,6,7,8,9,10,20,30,40,50,60,70,80,90,100,200,300,400,500], "labels": false, "tickSize": {"condition": {"test": "indexof([0.1,1,10,100], datum.value) >= 0", "value": -6}, "value": -3}, "title": null}},
           "y": {"field": "c", "type": "quantitative", "scale": {"domain": [0, 1]},
                 "axis": {"orient": "right", "values": [0,0.05,0.1,0.15,0.2,0.25,0.3,0.35,0.4,0.45,0.5,0.55,0.6,0.65,0.7,0.75,0.8,0.85,0.9,0.95,1], "labels": false, "tickSize": {"condition": {"test": "indexof([0,0.2,0.4,0.6,0.8,1], datum.value) >= 0", "value": -6}, "value": -3}, "title": null}},
           "strokeDash": {"field": "m", "type": "nominal", "scale": {"domain": ["κ=−1.40", "κ=−1.00", "κ=−0.60"], "range": [[7,5],[1,0],[11,3,1.5,3,1.5,3,1.5,3]]},
                          "legend": {"orient": "top-left", "offset": 8, "title": "π=−0.45 / η=−0.5", "titleFontSize": 11.5, "titlePadding": 3, "labelFontSize": 11, "symbolType": "M-1,0H14", "symbolSize": 36, "labelOffset": 43, "padding": 5, "rowPadding": 1.5}}
         }},
        {"data": {"name": "mBR"},
         "mark": {"type": "line", "interpolate": "step-after"},
         "encoding": {
           "x": {"field": "v", "type": "quantitative", "scale": {"type": "log", "domain": [0.1, 500]}, "axis": null},
           "y": {"field": "c", "type": "quantitative", "scale": {"domain": [0, 1]}, "axis": null},
           "strokeDash": {"field": "p", "type": "nominal", "scale": {"domain": ["pdetect=0.65", "pdetect=0.68", "pdetect=0.72"], "range": [[7,5],[1,0],[11,3,1.5,3,1.5,3,1.5,3]]},
                          "legend": {"orient": "bottom-right", "offset": 3, "title": null, "labelFontSize": 10, "symbolType": "M26,0H40", "symbolSize": 36, "labelOffset": -8, "padding": 5, "rowPadding": 3.5}}
         }}
      ],
      "resolve": {"scale": {"strokeDash": "independent"}, "axis": {"x": "independent", "y": "independent"}}
    }
  ]
}
